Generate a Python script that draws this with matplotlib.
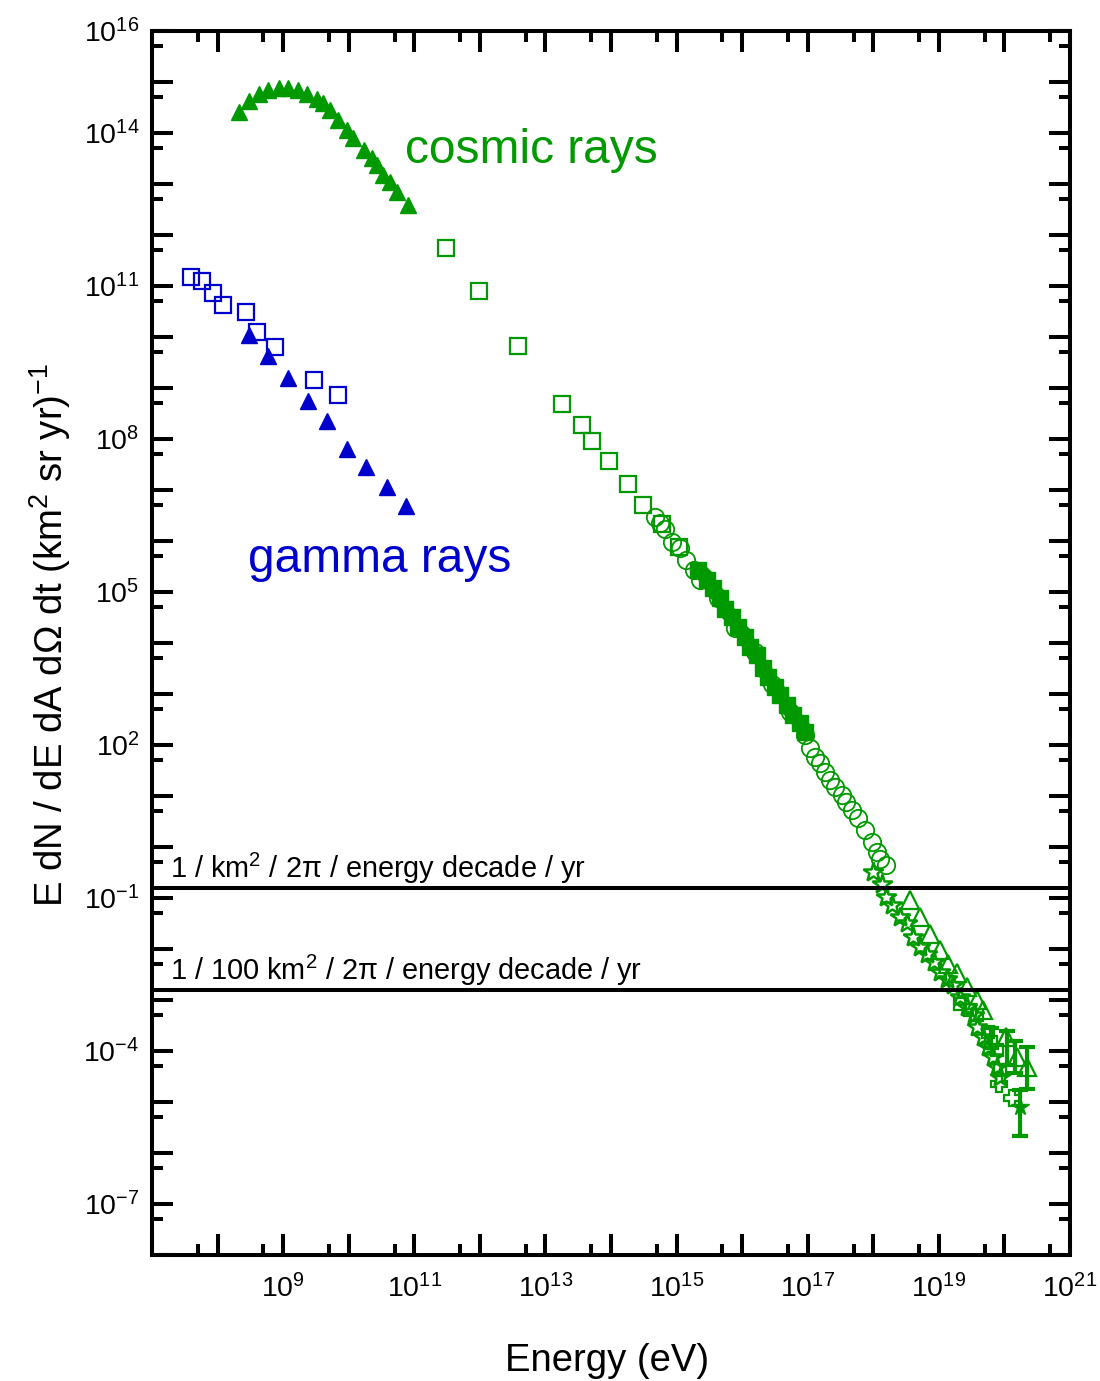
"""Cosmic-ray and gamma-ray energy spectrum, E dN/dE vs energy."""

import matplotlib

matplotlib.use("Agg")
import matplotlib.pyplot as plt
import numpy as np
from matplotlib.ticker import FixedLocator, FuncFormatter, NullFormatter

GREEN = "#009a00"
BLUE = "#0000cc"

# all values are log10(E / eV) and log10(E dN/dE dA dOmega dt)
cr_tri_loge = [8.33, 8.48, 8.63, 8.77, 8.93, 9.08, 9.22, 9.36, 9.51, 9.61, 9.72,
               9.84, 9.97, 10.07, 10.23, 10.35, 10.43, 10.53, 10.63, 10.74, 10.91]
cr_tri_logf = [14.41, 14.63, 14.76, 14.84, 14.88, 14.88, 14.84, 14.75, 14.67, 14.58, 14.45,
               14.25, 14.05, 13.89, 13.66, 13.50, 13.37, 13.17, 13.04, 12.84, 12.58]

cr_sq_loge = [11.49, 11.99, 12.58, 13.26, 13.56, 13.71, 13.97, 14.26, 14.49, 14.78, 15.03]
cr_sq_logf = [11.75, 10.90, 9.82, 8.69, 8.27, 7.96, 7.56, 7.11, 6.71, 6.33, 5.88]

gamma_sq_loge = [7.60, 7.77, 7.93, 8.09, 8.43, 8.60, 8.87, 9.47, 9.84]
gamma_sq_logf = [11.18, 11.10, 10.85, 10.63, 10.49, 10.10, 9.80, 9.15, 8.86]

gamma_tri_loge = [8.48, 8.77, 9.07, 9.38, 9.67, 9.98, 10.27, 10.58, 10.88]
gamma_tri_logf = [10.03, 9.62, 9.20, 8.75, 8.35, 7.80, 7.45, 7.06, 6.69]

circ_loge = [14.67, 14.75, 14.82, 14.93, 15.05, 15.15, 15.26, 15.36, 15.63, 15.89, 16.20,
             16.46, 16.73, 16.96, 17.04, 17.11, 17.19, 17.26, 17.34, 17.42, 17.52, 17.59,
             17.67, 17.77, 17.87, 17.98, 18.05, 18.10, 18.20]
circ_logf = [6.47, 6.34, 6.24, 5.98, 5.85, 5.62, 5.43, 5.23, 4.88, 4.29, 3.82,
             3.19, 2.64, 2.19, 1.93, 1.76, 1.64, 1.47, 1.31, 1.18, 1.01, 0.88,
             0.72, 0.56, 0.33, 0.10, -0.10, -0.23, -0.36]

fsq_loge = [15.33, 15.46, 15.56, 15.66, 15.74, 15.84, 15.94, 16.04, 16.12,
            16.22, 16.32, 16.40, 16.50, 16.58, 16.68, 16.78, 16.88, 16.96]
fsq_logf = [5.43, 5.23, 5.07, 4.87, 4.67, 4.51, 4.31, 4.12, 3.92,
            3.76, 3.50, 3.33, 3.14, 2.97, 2.78, 2.58, 2.42, 2.25]

dia_loge = [15.39, 15.60, 15.78, 15.98, 16.17, 16.36, 16.55, 16.73, 16.93]
dia_logf = [5.37, 4.97, 4.58, 4.23, 3.84, 3.41, 3.05, 2.68, 2.33]

star_loge = [18.00, 18.13, 18.20, 18.28, 18.41, 18.51, 18.61, 18.71, 18.82, 18.92, 19.02,
             19.12, 19.22, 19.32, 19.43, 19.53, 19.58, 19.68, 19.75, 19.83, 19.88, 19.93]
star_logf = [-0.49, -0.72, -0.98, -1.14, -1.37, -1.50, -1.76, -1.96, -2.09, -2.25, -2.45,
             -2.58, -2.71, -2.94, -3.14, -3.30, -3.53, -3.73, -3.92, -4.12, -4.31, -4.51]

otri_loge = [18.56, 18.71, 18.87, 19.02, 19.14, 19.27, 19.43, 19.58, 19.68, 20.03, 20.19, 20.34]
otri_logf = [-1.05, -1.37, -1.70, -2.03, -2.29, -2.48, -2.75, -3.01, -3.20, -3.73, -4.12, -4.31]

small_sq_loge = [19.32, 19.48, 19.58, 19.75, 19.80, 19.88, 19.93]
small_sq_logf = [-3.07, -3.20, -3.30, -3.63, -3.82, -3.99, -4.38]

plus_loge = [19.91, 20.11]
plus_logf = [-4.64, -4.93]

# points with error bars at the highest energies: centre, lower and upper edge
err_loge = [19.80, 20.04, 20.16, 20.24, 20.34]
err_logf = [-3.75, -3.93, -4.12, -5.10, -4.31]
err_lo = [-3.95, -4.28, -4.44, -5.67, -4.74]
err_hi = [-3.55, -3.61, -3.80, -4.77, -3.93]
err_star_loge = [20.24]
err_star_logf = [-5.10]

# reference lines: 1 / km^2 / 2pi and 1 / 100 km^2 / 2pi per energy decade per yr
line_levels = [1 / (2 * np.pi), 1 / (200 * np.pi)]
line_texts = ["1 / km$^2$ / 2π / energy decade / yr",
              "1 / 100 km$^2$ / 2π / energy decade / yr"]

x_label_exps = [9, 11, 13, 15, 17, 19, 21]
y_label_exps = [16, 14, 11, 8, 5, 2, -1, -4, -7]

plt.rcParams["font.family"] = ["Liberation Sans", "DejaVu Sans"]
plt.rcParams["mathtext.fontset"] = "custom"
plt.rcParams["mathtext.rm"] = "Liberation Sans"
plt.rcParams["mathtext.default"] = "regular"

fig = plt.figure(figsize=(11, 13.81), dpi=100)
ax = fig.add_axes([152 / 1100, 1 - 1255 / 1381, 918 / 1100, 1224.3 / 1381])
ax.set_xscale("log")
ax.set_yscale("log")
ax.set_xlim(1e7, 1e21)
ax.set_ylim(1e-8, 1e16)


def pw(values):
    return 10.0 ** np.asarray(values)


ax.plot(pw(gamma_sq_loge), pw(gamma_sq_logf), "s", ms=11.5, mfc="none", mec=BLUE, mew=1.6)
ax.plot(pw(gamma_tri_loge), pw(gamma_tri_logf), "^", ms=11.5, color=BLUE)
ax.plot(pw(cr_tri_loge), pw(cr_tri_logf), "^", ms=12, color=GREEN)
ax.plot(pw(cr_sq_loge), pw(cr_sq_logf), "s", ms=11.5, mfc="none", mec=GREEN, mew=1.6)
ax.plot(pw(circ_loge), pw(circ_logf), "o", ms=12.5, mfc="none", mec=GREEN, mew=1.3)
ax.plot(pw(fsq_loge), pw(fsq_logf), "s", ms=12, color=GREEN)
ax.plot(pw(dia_loge), pw(dia_logf), "D", ms=10, color=GREEN)
ax.plot(pw(star_loge), pw(star_logf), "*", ms=15, mfc="none", mec=GREEN, mew=1.8)
ax.plot(pw(otri_loge), pw(otri_logf), "^", ms=13, mfc="none", mec=GREEN, mew=1.6)
ax.plot(pw(small_sq_loge), pw(small_sq_logf), "s", ms=9, mfc="none", mec=GREEN, mew=1.6)
ax.plot(pw(plus_loge), pw(plus_logf), "P", ms=12, mfc="none", mec=GREEN, mew=1.6)

err_y = pw(err_logf)
ax.errorbar(pw(err_loge), err_y, yerr=[err_y - pw(err_lo), pw(err_hi) - err_y],
            fmt="none", ecolor=GREEN, elinewidth=3, capsize=6, capthick=3)
ax.plot(pw(err_star_loge), pw(err_star_logf), "*", ms=13, color=GREEN)

for level, text in zip(line_levels, line_texts):
    ax.axhline(level, color="black", lw=2.9)
    ax.text(10 ** 7.27, level * 10 ** 0.19, text, fontsize=20.8, ha="left", va="baseline")

ax.text(10 ** 10.86, 10 ** 13.41, "cosmic rays", color=GREEN, fontsize=34.5,
        ha="left", va="baseline")
ax.text(10 ** 8.46, 10 ** 5.39, "gamma rays", color=BLUE, fontsize=34.5,
        ha="left", va="baseline")

decades_x = pw(np.arange(7, 22))
decades_y = pw(np.arange(-8, 17))
ax.xaxis.set_major_locator(FixedLocator(decades_x))
ax.xaxis.set_minor_locator(FixedLocator(5 * decades_x[:-1]))
ax.yaxis.set_major_locator(FixedLocator(decades_y))
ax.yaxis.set_minor_locator(FixedLocator(5 * decades_y[:-1]))


def exp_formatter(wanted):
    def fmt(value, pos):
        exp = int(round(np.log10(value)))
        return f"$10^{{{exp}}}$" if exp in wanted else ""
    return FuncFormatter(fmt)


ax.xaxis.set_major_formatter(exp_formatter(x_label_exps))
ax.yaxis.set_major_formatter(exp_formatter(y_label_exps))
ax.xaxis.set_minor_formatter(NullFormatter())
ax.yaxis.set_minor_formatter(NullFormatter())

ax.tick_params(which="both", direction="in", top=True, right=True, width=2.9,
               labelsize=20.5, color="black")
ax.tick_params(axis="x", pad=14)
ax.tick_params(axis="y", pad=9)
ax.tick_params(which="major", length=15)
ax.tick_params(which="minor", length=8)
for spine in ax.spines.values():
    spine.set_linewidth(2.9)

fig.text(607 / 1100, 1 - 1371 / 1381, "Energy (eV)", fontsize=27.5, ha="center", va="baseline")
fig.text(50 / 1100, 1 - 635 / 1381, "E dN / dE dA dΩ dt (km$^2$ sr yr)$^{-1}$",
         fontsize=27.5, rotation=90, ha="center", va="center")

fig.savefig("out.png", dpi=100)
plt.close(fig)
